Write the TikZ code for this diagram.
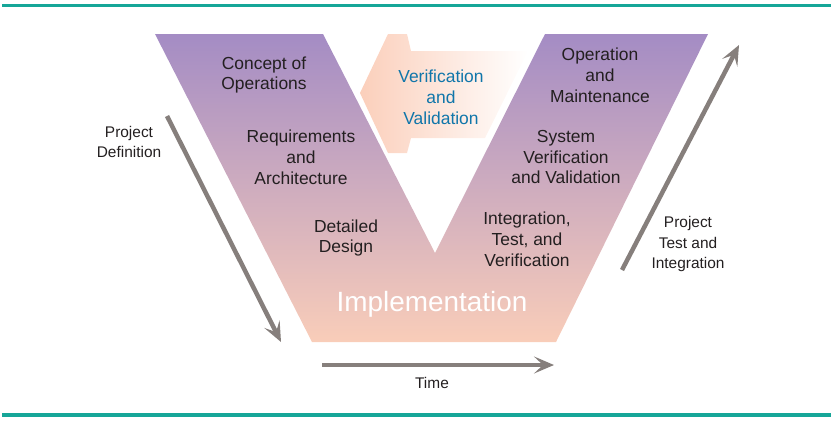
\documentclass[tikz,border=0pt]{standalone}
\usepackage{fontspec}
\setmainfont{Liberation Sans}
\usetikzlibrary{arrows.meta,positioning,calc}

\definecolor{vpurple}{RGB}{164,140,196}
\definecolor{vpeach}{RGB}{249,205,185}
\definecolor{apeach}{RGB}{251,207,187}
\definecolor{vtext}{RGB}{35,31,32}
\definecolor{vblue}{RGB}{16,118,170}
\definecolor{vgray}{RGB}{134,127,124}
\definecolor{vteal}{RGB}{22,166,152}

\begin{document}
\begin{tikzpicture}[x=1bp, y=-1bp,
  phase/.style={align=center, text=vtext, font=\fontsize{17.5}{21}\selectfont, inner sep=0pt},
  side/.style={align=center, text=vtext, font=\fontsize{15.5}{21}\selectfont, inner sep=0pt},
  flow/.style={-{Stealth[length=20bp, width=17bp, inset=9bp]}, line width=4.5bp, vgray},
  rule/.style={line width=3.8bp, vteal}
]
\useasboundingbox (0,0) rectangle (833,422);

% rules top and bottom
\draw[rule] (2,5.5) -- (831,5.5);
\draw[rule] (2,415) -- (831,415);

% the V
\shade[top color=vpurple, bottom color=vpeach]
  (155,34) -- (323,34) -- (435,253) -- (545,34) -- (708,34) -- (556,342) -- (312,342) -- cycle;

% verification arrow
\shade[left color=apeach, right color=white]
  (360,93) -- (388,34) -- (407,34) -- (411,51) -- (528,51) -- (485,138)
  -- (411,138) -- (407,153) -- (388,153) -- cycle;

% phases
\node[phase] (conops) at (264,75) {Concept of\\Operations};
\node[phase] (reqs) at (301,157) {Requirements\\and\\Architecture};
\node[phase] (design) at (346,238) {Detailed\\Design};
\node[phase, text=white, font=\fontsize{28}{32}\selectfont] (impl) at (432,304) {Implementation};
\node[phase] (integ) at (527,239) {Integration,\\Test, and\\Verification};
\node[phase] (sysvv) at (566,157) {System\\Verification\\and Validation};
\node[phase] (opsmaint) at (600,75) {Operation\\and\\Maintenance};
\node[phase, text=vblue] (vv) at (441,97) {Verification\\and\\Validation};

% time and project flow
\coordinate (defS) at (167,116);
\coordinate (defE) at (281,342);
\coordinate (timeS) at (322,365);
\coordinate (timeE) at (554,365);
\coordinate (testS) at (622,270);
\coordinate (testE) at (739,45);

\draw[flow] (defS) -- (defE);
\draw[flow] (timeS) -- (timeE);
\draw[flow] (testS) -- (testE);

\node[side] (projdef) at (129,142) {Project\\Definition};
\node[side] (projtest) at (688,244) {Project\\Test and\\Integration};
\node[side] (time) at (432,383) {Time};

\end{tikzpicture}
\end{document}
